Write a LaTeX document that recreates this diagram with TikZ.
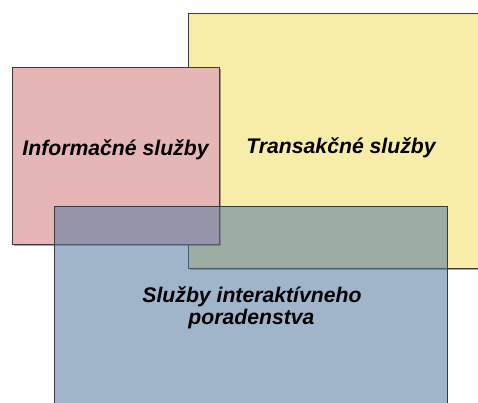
\documentclass[tikz,border=0pt]{standalone}
\usepackage{fontspec}
\setmainfont{Liberation Sans}
\usetikzlibrary{shadows}
\definecolor{redfill}{RGB}{230,181,181}
\definecolor{yellowfill}{RGB}{247,236,168}
\definecolor{bluebase}{RGB}{84,122,160}
\definecolor{edge}{RGB}{58,58,58}
\tikzset{
  box/.style={rectangle, inner sep=0pt, anchor=north west},
  border/.style={draw=edge, line width=1pt},
  shad/.style={drop shadow={shadow xshift=1.2pt, shadow yshift=-1.5pt, opacity=0.35, fill=black}},
  lbl/.style={font=\fontsize{21.2}{25}\selectfont\bfseries\itshape, text=black, inner sep=0pt, anchor=base}
}
\begin{document}
\begin{tikzpicture}[x=1pt,y=1pt]
\useasboundingbox (0,0) rectangle (478,403);
\fill[white] (0,0) rectangle (478,403);
\clip (0,0) rectangle (478,403);
% yellow box (runs off the right edge)
\node[box, shad, fill=yellowfill, minimum width=320pt, minimum height=254.5pt] (trans) at (188.5,389.5) {};
\draw[border] (trans.north east) -- (trans.north west) -- (trans.south west) -- (trans.south east);
% red box
\node[box, shad, border, fill=redfill, minimum width=206.5pt, minimum height=176.2pt] (info) at (12.3,335.5) {};
% blue box (runs off the bottom edge)
\node[box, fill=bluebase, fill opacity=0.55, minimum width=393.2pt, minimum height=220pt] (inter) at (54.3,196) {};
\draw[border] (inter.south west) -- (inter.north west) -- (inter.north east) -- (inter.south east);
\node[lbl] (tinfo) at (115.5,247) {Informačné služby};
\node[lbl] (ttrans) at (341,249) {Transakčné služby};
\node[lbl] (tinter1) at (252,100) {Služby interaktívneho};
\node[lbl] (tinter2) at (251.5,78) {poradenstva};
\end{tikzpicture}
\end{document}
